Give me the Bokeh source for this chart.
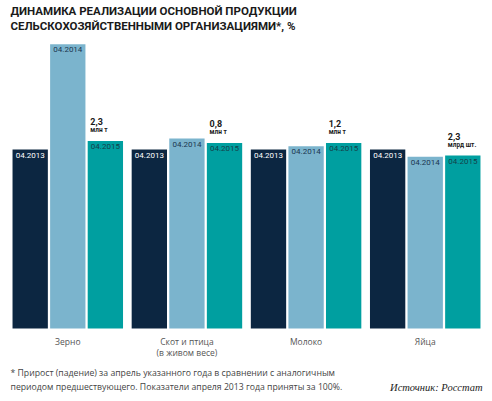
from bokeh.plotting import figure
from bokeh.models import ColumnDataSource, FactorRange, Range1d, Label
from bokeh.core.properties import value
from bokeh.embed import file_html
from bokeh.resources import INLINE

# ---------------- data ----------------
categories = ["Зерно", "Скот и птица", "Молоко", "Яйца"]
category_labels = ["Зерно", "Скот и птица\n(в живом весе)", "Молоко", "Яйца"]
periods = ["04.2013", "04.2014", "04.2015"]
v2013 = [100, 100, 100, 100]
v2014 = [158.8, 106.1, 101.8, 95.9]
v2015 = [104.8, 103.7, 103.7, 96.6]
volume_2015 = ["2,3", "0,8", "1,2", "2,3"]
volume_units = ["млн т", "млн т", "млн т", "млрд шт."]

title_lines = ["ДИНАМИКА РЕАЛИЗАЦИИ ОСНОВНОЙ ПРОДУКЦИИ",
               "СЕЛЬСКОХОЗЯЙСТВЕННЫМИ ОРГАНИЗАЦИЯМИ*, %"]
footnote_lines = ["* Прирост (падение) за апрель указанного года в сравнении с аналогичным",
                  "периодом предшествующего. Показатели апреля 2013 года приняты за 100%."]
source_text = "Источник: Росстат"

# ---------------- styles ----------------
bar_colors = {"04.2013": "#0c2641", "04.2014": "#7bb4cd", "04.2015": "#009fa0"}
label_colors = {"04.2013": "#ffffff", "04.2014": "#1c3650", "04.2015": "#153f4a"}

W, H = 492, 401
PX = 1.79                    # pixels per data unit
BASE = 328.0                 # page y of the zero line
Y1 = BASE / PX
Y0 = -(H - BASE) / PX


def ydata(page_y):
    return (BASE - page_y) / PX


factors = [(c, s) for c in categories for s in periods]
series = {"04.2013": v2013, "04.2014": v2014, "04.2015": v2015}
xs, tops, cols, labs, lcols = [], [], [], [], []
for i, c in enumerate(categories):
    for s in periods:
        xs.append((c, s))
        tops.append(series[s][i])
        cols.append(bar_colors[s])
        labs.append(s)
        lcols.append(label_colors[s])
src = ColumnDataSource(dict(x=xs, top=tops, color=cols, label=labs, lcolor=lcols))

p = figure(width=W, height=H, output_backend="svg", toolbar_location=None,
           x_range=FactorRange(*factors, group_padding=0.17, range_padding=0.29,
                               range_padding_units="absolute"),
           y_range=Range1d(Y0, Y1),
           x_axis_location=None, y_axis_location=None,
           min_border=0, min_border_left=0, min_border_right=0,
           min_border_top=0, min_border_bottom=0)
p.grid.visible = False
p.outline_line_color = None
p.background_fill_color = "white"
p.border_fill_color = "white"

p.vbar(x="x", top="top", bottom=0, width=0.94, fill_color="color",
       line_color=None, source=src)

p.text(x="x", y="top", text="label", x_offset=-14.5, y_offset=3,
       text_align="left", text_baseline="top", text_font=value("Roboto"),
       text_font_size="8px", text_color="lcolor", source=src)

vsrc = ColumnDataSource(dict(x=[(c, "04.2015") for c in categories], y=v2015,
                             num=volume_2015, unit=volume_units))
p.text(x="x", y="y", text="num", x_offset=-15, y_offset=-19,
       text_align="left", text_baseline="middle", text_font=value("Roboto"),
       text_font_style="bold", text_font_size="9px", text_color="#1a1a1a",
       source=vsrc)
p.text(x="x", y="y", text="unit", x_offset=-15, y_offset=-10.5,
       text_align="left", text_baseline="middle", text_font=value("Roboto"),
       text_font_style="bold", text_font_size="6.5px", text_color="#1a1a1a",
       source=vsrc)

csrc = ColumnDataSource(dict(x=categories, y=[0] * len(categories), t=category_labels))
p.text(x="x", y="y", text="t", y_offset=7, text_align="center",
       text_baseline="top", text_font=value("Open Sans"), text_font_size="8.5px",
       text_color="#555555", text_line_height=1.05, source=csrc)

for line, py in zip(title_lines, [10, 25.3]):
    p.add_layout(Label(x=10, y=ydata(py), x_units="screen", y_units="data",
                       text=line, text_font="Roboto", text_font_style="bold",
                       text_font_size="11.5px", text_color="#1a1a1a",
                       text_baseline="middle", text_align="left"))

for line, py in zip(footnote_lines, [372, 386]):
    p.add_layout(Label(x=10, y=ydata(py), x_units="screen", y_units="data",
                       text=line, text_font="Open Sans", text_font_size="8.7px",
                       text_color="#444444", text_baseline="middle",
                       text_align="left"))

p.add_layout(Label(x=482, y=ydata(387), x_units="screen", y_units="data",
                   text=source_text, text_font="Liberation Serif",
                   text_font_style="italic", text_font_size="10.5px",
                   text_color="#222222", text_baseline="middle",
                   text_align="right"))

open("out.html", "w").write(file_html(p, INLINE))
